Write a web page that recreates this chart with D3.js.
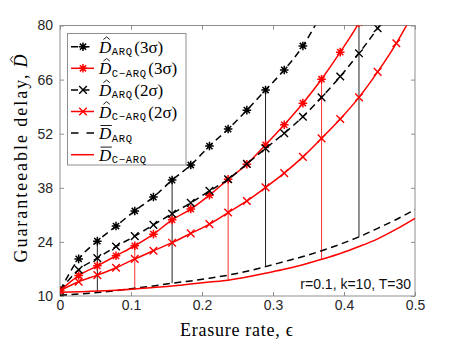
<!DOCTYPE html>
<meta charset="utf-8">
<html lang="en"></html>
<script src="https://d3js.org/d3.v7.min.js"></script>
<style>
  body { margin: 0; background: #fff; }
</style>
<div id="chart"></div>
<script>

    // erasure rates (x) and the curves
    const eps = [0, 0.0263, 0.0526, 0.0789, 0.1053, 0.1316, 0.1579, 0.1842, 0.2105, 0.2368,
                 0.2632, 0.2895, 0.3158, 0.3421, 0.3684, 0.3947, 0.4211, 0.4474, 0.4737, 0.5];
    const arq3 = [11.4, 19.6, 24.2, 28.1, 32.0, 35.6, 40.0, 43.9, 48.8, 53.2,
                  58.1, 63.3, 68.5, 74.7, 82.9, 91, 100, 109, 119, 130];
    const carq3 = [11.4, 15.3, 17.8, 20.4, 23.0, 26.0, 29.7, 32.5, 36.1, 40.2,
                   44.1, 49.1, 54.3, 59.9, 66.1, 73.1, 80.7, 90, 100, 111];
    const arq2 = [11.4, 16.8, 19.8, 22.8, 25.5, 28.4, 31.3, 34.1, 37.2, 40.2,
                  44.2, 48.2, 52.1, 56.4, 61.4, 66.8, 72.8, 79.3, 86.5, 94];
    const carq2 = [11.4, 13.7, 15.4, 17.3, 19.6, 21.7, 23.8, 26.2, 28.6, 31.6,
                   34.6, 38.1, 41.8, 46.0, 50.8, 55.8, 61.4, 68.0, 75.4, 84];
    const arqMean = [10.2, 10.5, 10.9, 11.4, 12.0, 12.6, 13.3, 13.9, 14.6, 15.4,
                     16.4, 17.6, 18.9, 20.2, 21.7, 23.4, 25.3, 27.5, 29.8, 32.4];
    const carqMean = [11.0, 11.1, 11.3, 11.5, 11.8, 12.2, 12.6, 13.1, 13.6, 14.1,
                      14.9, 15.9, 16.9, 18.1, 19.5, 21.0, 22.8, 24.8, 27.3, 30.1];
    // where the vertical spread bars sit (index into eps)
    const arqStems = [2, 6, 11, 16];
    const carqStems = [4, 9, 14];

    const xTicks = [0, 0.1, 0.2, 0.3, 0.4, 0.5];
    const yTicks = [10, 24, 38, 52, 66, 80];
    const note = "r=0.1, k=10, T=30";

    // layout
    const W = 459, H = 344;
    const margin = {top: 25.5, left: 60, right: 44, bottom: 48};
    const pw = W - margin.left - margin.right,
        ph = H - margin.top - margin.bottom;

    const serif = "'Liberation Serif', 'Times New Roman', serif";
    const sans = "'Liberation Sans', Arial, sans-serif";
    const mono = "'Liberation Mono', 'DejaVu Sans Mono', monospace";
    const axisGray = "#262626";
    const boxGray = "#8f8f8f";

    const svg = d3.select("#chart")
        .append("svg")
            .attr("width", W)
            .attr("height", H);

    const x = d3.scaleLinear().domain([0, 0.5]).range([margin.left, margin.left + pw]);
    const y = d3.scaleLinear().domain([10, 80]).range([margin.top + ph, margin.top]);

    svg.append("clipPath").attr("id", "plotclip")
        .append("rect")
            .attr("x", margin.left).attr("y", margin.top)
            .attr("width", pw).attr("height", ph);

    // axes (ticks point inwards, box on)
    function styleAxis(g) {
        g.select(".domain").remove();
        g.selectAll(".tick line").attr("stroke", boxGray);
        g.selectAll(".tick text")
            .attr("fill", axisGray)
            .style("font-family", sans)
            .style("font-size", "14px");
    }
    svg.append("g")
        .attr("transform", "translate(0," + (margin.top + ph) + ")")
        .call(d3.axisBottom(x).tickValues(xTicks).tickSize(-4).tickPadding(4)
            .tickFormat(d => d === 0 ? "0" : d3.format(".1f")(d)))
        .call(styleAxis);
    svg.append("g")
        .attr("transform", "translate(0," + margin.top + ")")
        .call(d3.axisTop(x).tickValues(xTicks).tickSize(-4).tickFormat(""))
        .call(styleAxis);
    svg.append("g")
        .attr("transform", "translate(" + margin.left + ",0)")
        .call(d3.axisLeft(y).tickValues(yTicks).tickSize(-4).tickPadding(7))
        .call(styleAxis);
    svg.append("g")
        .attr("transform", "translate(" + (margin.left + pw) + ",0)")
        .call(d3.axisRight(y).tickValues(yTicks).tickSize(-4).tickFormat(""))
        .call(styleAxis);

    svg.append("rect")
        .attr("x", margin.left).attr("y", margin.top)
        .attr("width", pw).attr("height", ph)
        .attr("fill", "none")
        .attr("stroke", boxGray)
        .attr("stroke-width", 1);

    // markers
    function star(g, cx, cy, color) {
        const r = 4.3, d = r * 0.72;
        g.append("path")
            .attr("d", `M${cx - r},${cy}L${cx + r},${cy}M${cx},${cy - r}L${cx},${cy + r}` +
                `M${cx - d},${cy - d}L${cx + d},${cy + d}M${cx - d},${cy + d}L${cx + d},${cy - d}`)
            .attr("stroke", color).attr("stroke-width", 1.5).attr("fill", "none");
    }
    function cross(g, cx, cy, color) {
        const r = 3.8;
        g.append("path")
            .attr("d", `M${cx - r},${cy - r}L${cx + r},${cy + r}M${cx - r},${cy + r}L${cx + r},${cy - r}`)
            .attr("stroke", color).attr("stroke-width", 1.4).attr("fill", "none");
    }

    const plot = svg.append("g").attr("clip-path", "url(#plotclip)");

    const line = d3.line()
        .x((d, i) => x(eps[i]))
        .y(d => y(d))
        .curve(d3.curveMonotoneX);

    const series = [
        {vals: arq3, color: "black", dash: "7,4.5", marker: star},
        {vals: carq3, color: "red", dash: null, marker: star},
        {vals: arq2, color: "black", dash: "7,4.5", marker: cross},
        {vals: carq2, color: "red", dash: null, marker: cross},
        {vals: arqMean, color: "black", dash: "7,4.5", marker: null},
        {vals: carqMean, color: "red", dash: null, marker: null}
    ];

    // spread bars from the mean up to the 3-sigma curve
    arqStems.forEach(function(i) {
        plot.append("line")
            .attr("x1", x(eps[i])).attr("x2", x(eps[i]))
            .attr("y1", y(arqMean[i])).attr("y2", y(arq3[i]))
            .attr("stroke", "#222").attr("stroke-width", 1);
    });
    carqStems.forEach(function(i) {
        plot.append("line")
            .attr("x1", x(eps[i])).attr("x2", x(eps[i]))
            .attr("y1", y(carqMean[i])).attr("y2", y(carq3[i]))
            .attr("stroke", "#ff3030").attr("stroke-width", 1);
    });

    series.forEach(function(s) {
        plot.append("path")
            .datum(s.vals)
            .attr("d", line)
            .attr("fill", "none")
            .attr("stroke", s.color)
            .attr("stroke-width", 1.5)
            .attr("stroke-dasharray", s.dash);
        if (s.marker) {
            const mg = plot.append("g");
            s.vals.forEach(function(v, i) { s.marker(mg, x(eps[i]), y(v), s.color); });
        }
    });

    // note in the lower right corner
    svg.append("text")
        .text(note)
        .attr("x", margin.left + pw - 4)
        .attr("y", margin.top + ph - 7)
        .attr("text-anchor", "end")
        .attr("fill", "#111")
        .style("font-family", sans)
        .style("font-size", "14px");

    // math-ish label: D with hat or bar, monospace subscript, then plain text
    function mathLabel(g, x0, base, deco, sub, rest, size) {
        let cx = x0;
        const d = g.append("text")
            .text("D")
            .attr("x", cx).attr("y", base)
            .style("font-family", serif)
            .style("font-style", "italic")
            .style("font-size", size + "px")
            .attr("fill", "black");
        const dw = d.node().getComputedTextLength();
        if (deco === "hat") {
            const hc = cx + dw * 0.62, ht = base - size * 0.93;
            g.append("path")
                .attr("d", `M${hc - 3.2},${ht + 2.6}L${hc},${ht}L${hc + 3.2},${ht + 2.6}`)
                .attr("stroke", "black").attr("stroke-width", 0.9).attr("fill", "none");
        } else if (deco === "bar") {
            g.append("line")
                .attr("x1", cx + 1.5).attr("x2", cx + dw + 0.5)
                .attr("y1", base - size * 0.8).attr("y2", base - size * 0.8)
                .attr("stroke", "black").attr("stroke-width", 0.9);
        }
        cx += dw;
        if (sub) {
            const s = g.append("text")
                .text(sub)
                .attr("x", cx + 0.5).attr("y", base + 2.5)
                .style("font-family", mono)
                .style("font-size", "10.5px")
                .style("letter-spacing", "0.7px")
                .attr("fill", "black");
            cx += s.node().getComputedTextLength() + 2;
        }
        if (rest) {
            const r = g.append("text")
                .text(rest)
                .attr("x", cx).attr("y", base)
                .style("font-family", serif)
                .style("font-size", size + "px")
                .attr("fill", "black");
            cx += r.node().getComputedTextLength();
        }
        return cx - x0;
    }

    // legend
    const leg = svg.append("g");
    leg.append("rect")
        .attr("x", 67.5).attr("y", 33.5)
        .attr("width", 118.5).attr("height", 131.5)
        .attr("fill", "white")
        .attr("stroke", boxGray)
        .attr("stroke-width", 1);
    const legRows = [
        {s: series[0], deco: "hat", sub: "ARQ", rest: "(3σ)"},
        {s: series[1], deco: "hat", sub: "C\u2212ARQ", rest: "(3σ)"},
        {s: series[2], deco: "hat", sub: "ARQ", rest: "(2σ)"},
        {s: series[3], deco: "hat", sub: "C\u2212ARQ", rest: "(2σ)"},
        {s: series[4], deco: "bar", sub: "ARQ", rest: ""},
        {s: series[5], deco: "bar", sub: "C\u2212ARQ", rest: ""}
    ];
    legRows.forEach(function(r, i) {
        const cy = 46.7 + i * 21.6;
        leg.append("line")
            .attr("x1", 71).attr("x2", 94)
            .attr("y1", cy).attr("y2", cy)
            .attr("stroke", r.s.color)
            .attr("stroke-width", 1.5)
            .attr("stroke-dasharray", r.s.dash ? (r.s.marker ? "7,4.5" : "7.5,8") : null);
        if (r.s.marker) r.s.marker(leg, 83, cy, r.s.color);
        mathLabel(leg, 99, cy + 6, r.deco, r.sub, r.rest, 17);
    });

    // axis titles (stretched a little, the original uses a wider TeX font)
    svg.append("text")
        .text("Erasure rate, ϵ")
        .attr("x", 180)
        .attr("y", 336)
        .attr("textLength", 113)
        .attr("lengthAdjust", "spacing")
        .attr("fill", "black")
        .style("font-family", serif)
        .style("font-size", "18px");

    const yl = svg.append("g");
    yl.append("text")
        .text("Guaranteeable delay,")
        .attr("x", 0).attr("y", 0)
        .attr("textLength", 188)
        .attr("lengthAdjust", "spacing")
        .style("font-family", serif)
        .style("font-size", "18px")
        .attr("fill", "black");
    const w2 = mathLabel(yl, 195, 0, "hat", null, null, 18);
    yl.attr("transform", "translate(27," + (158.5 + (195 + w2) / 2) + ") rotate(-90)");

</script>
